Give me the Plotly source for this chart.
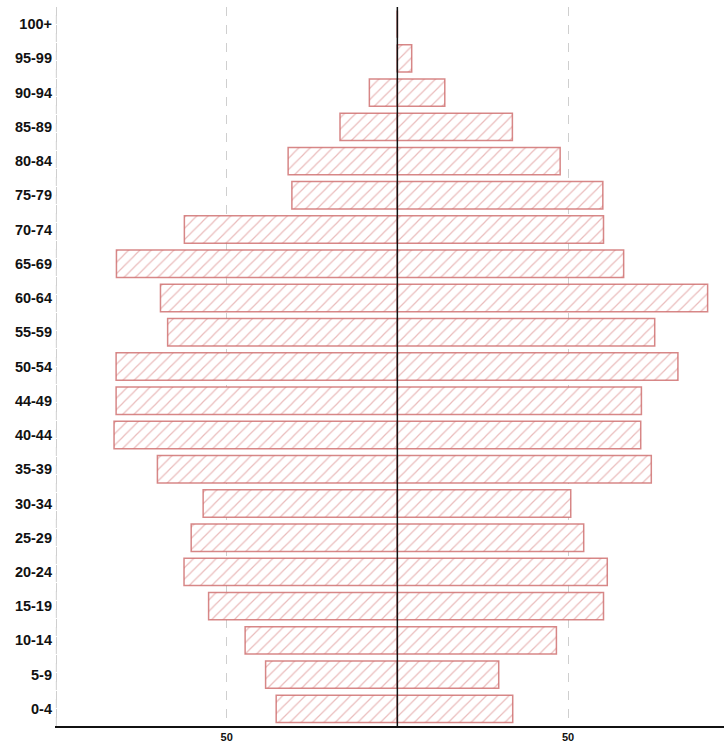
import plotly.graph_objects as go

age_groups = ["0-4", "5-9", "10-14", "15-19", "20-24", "25-29", "30-34", "35-39",
              "40-44", "44-49", "50-54", "55-59", "60-64", "65-69", "70-74", "75-79",
              "80-84", "85-89", "90-94", "95-99", "100+"]
left_values = [35.5, 38.6, 44.6, 55.3, 62.5, 60.4, 56.9, 70.3,
               83.0, 82.4, 82.4, 67.3, 69.4, 82.3, 62.4, 30.9,
               32.0, 16.8, 8.2, 0.0, 0.0]
right_values = [33.8, 29.7, 46.6, 60.4, 61.5, 54.6, 50.8, 74.4,
                71.3, 71.5, 82.2, 75.4, 90.9, 66.3, 60.4, 60.2,
                47.7, 33.7, 13.9, 4.2, 0.0]
tick_values = [-100, -50, 0, 50]
tick_labels = ["", "50", "", "50"]

bar_line = "rgba(205,105,105,0.8)"
hatch = "rgba(205,95,95,0.85)"

def bar_trace(vals):
    return go.Bar(
        y=age_groups, x=vals, orientation="h", base=0,
        marker=dict(color="white",
                    line=dict(color=bar_line, width=1.5),
                    pattern=dict(shape="/", fgcolor=hatch, bgcolor="white",
                                 size=8, solidity=0.15)),
        showlegend=False, hoverinfo="skip")

fig = go.Figure()
fig.add_trace(bar_trace([-v for v in left_values]))
fig.add_trace(bar_trace(right_values))

# left-edge dashed grid line (at the axis range start)
fig.add_shape(type="line", xref="paper", yref="paper", x0=0.002, x1=0.002, y0=0, y1=1,
              line=dict(color="#cfcfcf", width=1, dash="dash"), layer="below")
# center reference line drawn above the bars
fig.add_shape(type="line", xref="x", yref="paper", x0=0, x1=0, y0=0, y1=1,
              line=dict(color="#111", width=1.5), layer="above")

fig.update_layout(
    width=724, height=744,
    margin=dict(l=55, r=0, t=7, b=18, autoexpand=False),
    plot_bgcolor="white", paper_bgcolor="white",
    barmode="overlay", bargap=0.2,
    font=dict(family="Liberation Sans, Arial, sans-serif", color="#111"),
    xaxis=dict(range=[-100.3, 95.7], tickvals=tick_values, ticktext=tick_labels,
               showgrid=True, gridcolor="#cfcfcf", griddash="dash", gridwidth=1,
               zeroline=False,
               showline=True, linecolor="#111", linewidth=2,
               tickfont=dict(size=11, family="Liberation Sans, Arial, sans-serif",
                             weight="bold"),
               ticks="", automargin=False, fixedrange=True),
    yaxis=dict(categoryorder="array", categoryarray=age_groups,
               showgrid=False, zeroline=False, showline=False, ticks="",
               tickfont=dict(size=14.5, family="Liberation Sans, Arial, sans-serif",
                             weight="bold"),
               ticklabelstandoff=2, automargin=False, fixedrange=True),
)

fig.write_html("out.html", config={"displayModeBar": False},
               post_script="document.body.style.margin='0';document.body.style.overflow='hidden';")
